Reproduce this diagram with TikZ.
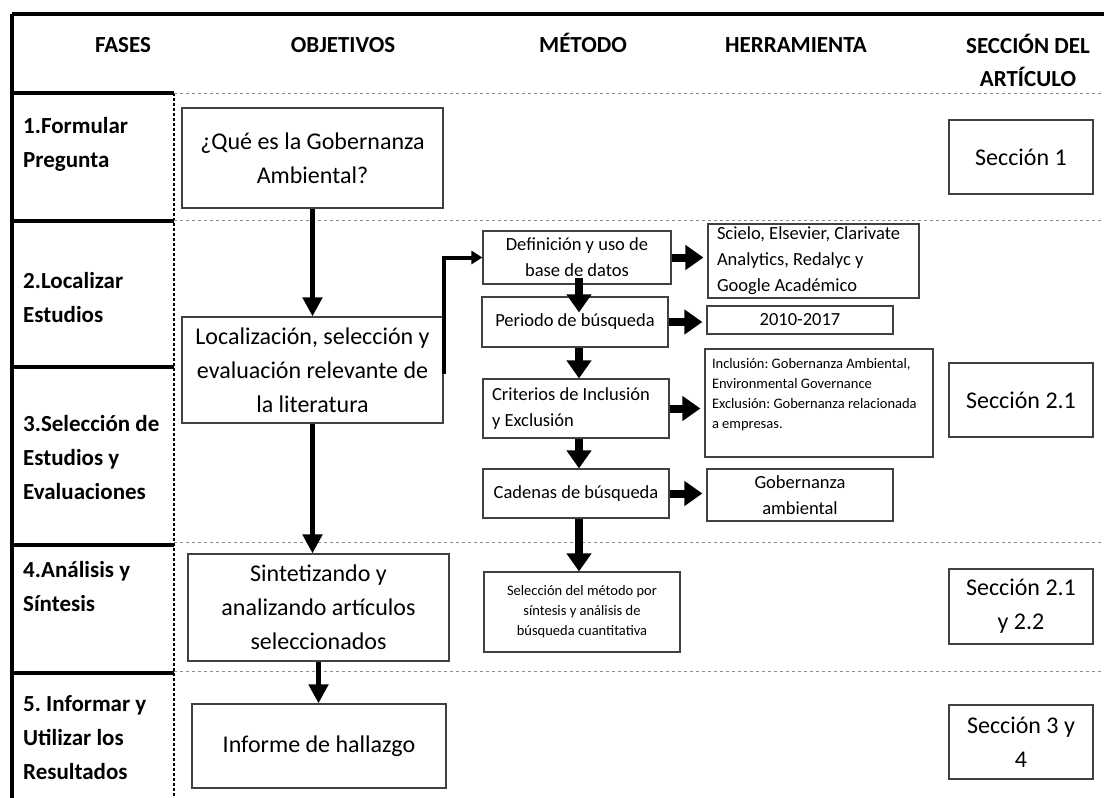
\documentclass[tikz,border=0pt]{standalone}
\usepackage{fontspec}
\setmainfont{Carlito}
\frenchspacing
\usetikzlibrary{calc, positioning, arrows.meta}
\tikzset{
  caja/.style    = {draw=black!75, line width=1.2pt, inner sep=0pt, align=center, font=\fontsize{24}{34}\selectfont},
  cajita/.style  = {draw=black!75, line width=1.2pt, inner sep=0pt, align=center, font=\fontsize{18.5}{26}\selectfont},
  chica/.style   = {draw=black!75, line width=1.2pt, inner sep=0pt, align=center, font=\fontsize{14.5}{20}\selectfont},
  seccion/.style = {caja, minimum width=144pt, minimum height=74pt},
  fase/.style    = {anchor=west, align=flush left, inner sep=0pt, font=\bfseries\fontsize{23}{34}\selectfont},
  titulo/.style  = {inner sep=0pt, align=center, text height=17pt, text depth=5pt, font=\bfseries\fontsize{23}{33}\selectfont},
  flecha/.style  = {line width=5.5pt, -{Triangle[length=19pt,width=19pt]}},
  bloque/.style  = {line width=8pt, -{Triangle[length=18pt,width=24pt]}},
  codo/.style    = {line width=4pt, -{Triangle[length=11pt,width=13pt]}},
  guia/.style    = {draw=black!45, dashed, line width=1pt},
  borde/.style   = {line width=3.5pt},
}

\begin{document}
\begin{tikzpicture}[x=1pt, y=-1pt]
  \useasboundingbox (0,0) rectangle (1104,798);

  %frame of the table
  \draw[line width=4pt] (12,14) -- (1104,14);
  \draw[borde] (12,14) -- (12,798);
  \draw[line width=2pt, densely dashed] (174,93) -- (174,798);
  \foreach \y in {93,221,367,545,673}{
    \draw[borde] (12,\y) -- (174,\y);
  }
  \foreach \y in {93,220,542,671}{
    \draw[guia] (174,\y) -- (1104,\y);
  }

  %column titles
  \node[titulo] (tfases) at (123,46) {FASES};
  \node[titulo] (tobj)   at (343,46) {OBJETIVOS};
  \node[titulo] (tmet)   at (583,46) {MÉTODO};
  \node[titulo] (therr)  at (796,46) {HERRAMIENTA};
  \node[titulo, text height=, text depth=] (tsec) at (1028,60) {SECCIÓN DEL\\ARTÍCULO};

  %phases on the left
  \foreach \y/\t [count=\i] in {144/{1.Formular\\Pregunta},
      298/{2.Localizar\\Estudios},
      458/{3.Selección de\\Estudios y\\Evaluaciones},
      587/{4.Análisis y\\Síntesis},
      738/{5. Informar y\\Utilizar los\\Resultados}}{
    \node[fase] (f\i) at (23,\y) {\t};
  }

  %objectives
  \node[caja, minimum width=261pt, minimum height=100pt] (preg) at (312.5,158) {¿Qué es la Gobernanza\\Ambiental?};
  \node[caja, minimum width=261pt, minimum height=106pt] (loc) at (312.5,370) {Localización, selección y\\evaluación relevante de\\la literatura};
  \node[caja, minimum width=261pt, minimum height=107pt] (sint) at (318.5,607.5) {Sintetizando y\\analizando artículos\\seleccionados};
  \node[caja, minimum width=254pt, minimum height=84pt] (inf) at (319,746) {Informe de hallazgo};

  %method
  \node[cajita, minimum width=188pt, minimum height=53pt] (base) at (577,257.5) {Definición y uso de\\base de datos};
  \node[cajita, minimum width=186pt, minimum height=50pt] (peri) at (575,322) {Periodo de búsqueda};
  \node[cajita, minimum width=186pt, minimum height=59pt, align=flush left, text width=168pt] (crit) at (576,408.5) {Criterios de Inclusión\\y Exclusión};
  \node[cajita, minimum width=186pt, minimum height=49pt] (cad) at (576,493.5) {Cadenas de búsqueda};
  \node[chica, minimum width=196pt, minimum height=80pt] (selm) at (582,612) {Selección del método por\\síntesis y análisis de\\búsqueda cuantitativa};

  %tools
  \node[cajita, minimum width=211pt, minimum height=74pt, align=flush left, text width=193pt] (bases) at (813.5,261) {Scielo, Elsevier, Clarivate\\Analytics, Redalyc y\\Google Académico};
  \node[cajita, minimum width=186pt, minimum height=28pt] (anios) at (800,320) {2010-2017};
  \node[chica, minimum width=228pt, minimum height=108pt, align=flush left, text width=214pt] (incl) at (819,403) {Inclusión: Gobernanza Ambiental,\\Environmental Governance\\Exclusión: Gobernanza relacionada\\a empresas.\\ \mbox{}};
  \node[cajita, minimum width=186pt, minimum height=52pt] (gob) at (800,495) {Gobernanza\\ambiental};

  %article sections
  \node[seccion] (s1) at (1021,157) {Sección 1};
  \node[seccion] (s2) at (1021,400) {Sección 2.1};
  \node[seccion, minimum height=75pt] (s3) at (1021,606.5) {Sección 2.1\\y 2.2};
  \node[seccion] (s4) at (1021,742) {Sección 3 y\\4};

  %arrows
  \draw[flecha] (preg) -- (loc);
  \draw[flecha] (loc.south) -- (loc.south |- sint.north);
  \draw[flecha] (sint.south) -- (sint.south |- inf.north);
  \coordinate (b1) at ([yshift=-58pt]loc.north east);
  \draw[codo] (b1) |- (base.west);

  \draw[bloque, shorten <=-7pt, shorten >=-16pt] ([xshift=2pt]base.south) -- ([xshift=2pt]base.south |- peri.north);
  \draw[bloque] ([xshift=4pt]peri.south) -- ([xshift=4pt]peri.south |- crit.north);
  \draw[bloque] ([xshift=3pt]crit.south) -- ([xshift=3pt]crit.south |- cad.north);
  \draw[bloque] ([xshift=3pt]cad.south) -- ([xshift=3pt]cad.south |- selm.north);

  \draw[bloque, shorten >=4pt] (base.east) -- (base.east -| bases.west);
  \draw[bloque, shorten >=4pt] (peri.east) -- (peri.east -| anios.west);
  \draw[bloque, shorten >=4pt] (crit.east) -- (crit.east -| incl.west);
  \draw[bloque, shorten >=4pt] (cad.east) -- (cad.east -| gob.west);
\end{tikzpicture}
\end{document}
